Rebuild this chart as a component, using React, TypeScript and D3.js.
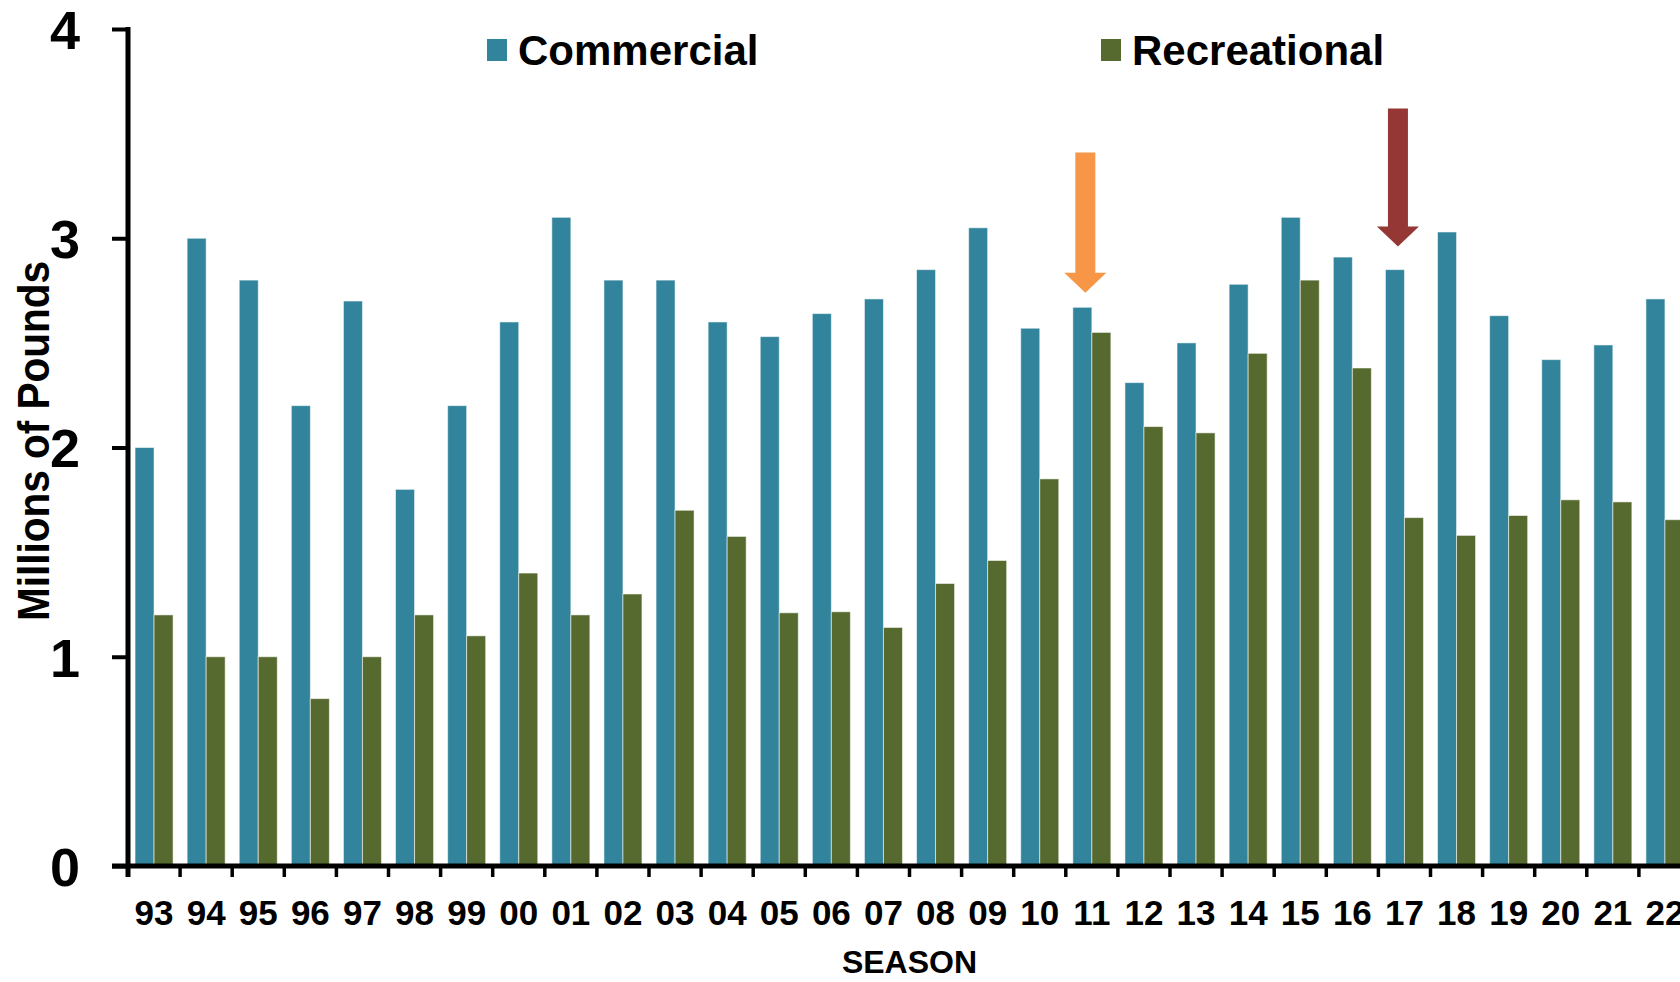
import React, { useEffect, useRef } from "react";
import * as d3 from "d3";

const seasons = ["93", "94", "95", "96", "97", "98", "99", "00", "01", "02", "03", "04", "05", "06", "07", "08", "09", "10", "11", "12", "13", "14", "15", "16", "17", "18", "19", "20", "21", "22"];
const commercial = [2.0, 3.0, 2.8, 2.2, 2.7, 1.8, 2.2, 2.6, 3.1, 2.8, 2.8, 2.6, 2.53, 2.64, 2.71, 2.85, 3.05, 2.57, 2.67, 2.31, 2.5, 2.78, 3.1, 2.91, 2.85, 3.03, 2.63, 2.42, 2.49, 2.71];
const recreational = [1.2, 1.0, 1.0, 0.8, 1.0, 1.2, 1.1, 1.4, 1.2, 1.3, 1.7, 1.575, 1.21, 1.215, 1.14, 1.35, 1.46, 1.85, 2.55, 2.1, 2.07, 2.45, 2.8, 2.38, 1.665, 1.58, 1.675, 1.75, 1.74, 1.655];
const seriesNames = ["Commercial", "Recreational"];
const seriesColors = ["#31849B", "#566A2F"];
const yTicks = [0, 1, 2, 3, 4];

// the two annotation arrows (season, top value, tip value)
const arrowSeasons = ["11", "17"];
const arrowTops = [3.41, 3.62];
const arrowTips = [2.74, 2.96];
const arrowColors = ["#F79646", "#953735"];

const FONT = "'Liberation Sans', Arial, sans-serif";

function App() {
  const ref = useRef<SVGSVGElement>(null);

  useEffect(() => {
    document.body.style.margin = "0";
    document.body.style.overflow = "hidden";

    const width = 1680;
    const left = 128;
    const step = 52.1;
    const svg = d3.select(ref.current);
    svg.selectAll("*").remove();

    const x = d3
      .scaleBand()
      .domain(seasons)
      .range([left, left + step * seasons.length])
      .paddingInner(0)
      .paddingOuter(0);

    const xs = d3
      .scaleBand()
      .domain(seriesNames)
      .range([0, x.bandwidth()])
      .paddingInner(0)
      .paddingOuter(0.37);

    const y = d3.scaleLinear().domain([0, 4]).range([866, 29]);

    const rows = seasons.map((s, i) => ({ season: s, values: [commercial[i], recreational[i]] }));

    // bars
    const groups = svg
      .append("g")
      .selectAll("g")
      .data(rows)
      .join("g")
      .attr("transform", (d) => `translate(${x(d.season)},0)`);

    groups
      .selectAll("rect")
      .data((d) => d.values.map((v, k) => ({ key: seriesNames[k], v, k })))
      .join("rect")
      .attr("x", (d: any) => xs(d.key))
      .attr("width", xs.bandwidth())
      .attr("y", (d: any) => y(d.v))
      .attr("height", (d: any) => y(0) - y(d.v))
      .attr("fill", (d: any) => seriesColors[d.k])
      .attr("stroke", "rgba(255,255,255,0.55)")
      .attr("stroke-width", 1);

    // arrows
    const arrows = arrowSeasons.map((s, i) => ({ s, top: arrowTops[i], tip: arrowTips[i], color: arrowColors[i] }));
    svg
      .append("g")
      .selectAll("path")
      .data(arrows)
      .join("path")
      .attr("fill", (d) => d.color)
      .attr("d", (d) => {
        const cx = (x(d.s) as number) + x.bandwidth() * 0.375;
        const yt = y(d.top);
        const yp = y(d.tip);
        const yh = yp - 20;
        const p = d3.path();
        p.moveTo(cx - 10, yt);
        p.lineTo(cx + 10, yt);
        p.lineTo(cx + 10, yh);
        p.lineTo(cx + 21, yh);
        p.lineTo(cx, yp);
        p.lineTo(cx - 21, yh);
        p.lineTo(cx - 10, yh);
        p.closePath();
        return p.toString();
      });

    // y axis
    const yAxis = svg
      .append("g")
      .attr("transform", `translate(${left},0)`)
      .call(d3.axisLeft(y).tickValues(yTicks).tickSize(16).tickSizeOuter(0).tickFormat(d3.format("d")).tickPadding(32));
    yAxis.select(".domain").remove();
    yAxis.selectAll(".tick line").attr("stroke", "#000").attr("stroke-width", 4);
    yAxis
      .selectAll(".tick text")
      .attr("fill", "#000")
      .attr("font-family", FONT)
      .attr("font-weight", "bold")
      .attr("font-size", 54)
      .attr("dy", "0.36em");

    svg
      .append("line")
      .attr("x1", left)
      .attr("x2", left)
      .attr("y1", y(4) - 2)
      .attr("y2", 877)
      .attr("stroke", "#000")
      .attr("stroke-width", 5);

    // x axis baseline and boundary ticks
    svg
      .append("line")
      .attr("x1", 112)
      .attr("x2", width)
      .attr("y1", y(0))
      .attr("y2", y(0))
      .attr("stroke", "#000")
      .attr("stroke-width", 5);

    svg
      .append("g")
      .selectAll("line")
      .data(seasons.slice(1))
      .join("line")
      .attr("x1", (d) => x(d) as number)
      .attr("x2", (d) => x(d) as number)
      .attr("y1", y(0))
      .attr("y2", 877)
      .attr("stroke", "#000")
      .attr("stroke-width", 3.5);

    svg
      .append("g")
      .selectAll("text")
      .data(seasons)
      .join("text")
      .attr("x", (d) => (x(d) as number) + x.bandwidth() / 2)
      .attr("y", 925)
      .attr("text-anchor", "middle")
      .attr("font-family", FONT)
      .attr("font-weight", "bold")
      .attr("font-size", 35)
      .text((d) => d);

    // axis titles
    svg
      .append("text")
      .attr("x", left + (step * seasons.length) / 2)
      .attr("y", 973)
      .attr("text-anchor", "middle")
      .attr("font-family", FONT)
      .attr("font-weight", "bold")
      .attr("font-size", 32)
      .text("SEASON");

    svg
      .append("text")
      .attr("transform", "translate(49,441) rotate(-90)")
      .attr("text-anchor", "middle")
      .attr("font-family", FONT)
      .attr("font-weight", "bold")
      .attr("font-size", 44)
      .attr("textLength", 360)
      .attr("lengthAdjust", "spacingAndGlyphs")
      .text("Millions of Pounds");

    // legend
    const legendX = [487, 1101];
    const legend = svg
      .append("g")
      .selectAll("g")
      .data(seriesNames)
      .join("g")
      .attr("transform", (_d, i) => `translate(${legendX[i]},0)`);
    legend
      .append("rect")
      .attr("x", 0)
      .attr("y", 39)
      .attr("width", 20)
      .attr("height", 22)
      .attr("fill", (_d, i) => seriesColors[i]);
    legend
      .append("text")
      .attr("x", 31)
      .attr("y", 65)
      .attr("font-family", FONT)
      .attr("font-weight", "bold")
      .attr("font-size", 42)
      .text((d) => d);
  }, []);

  return <svg ref={ref} width={1680} height={982} style={{ display: "block", background: "#fff" }} />;
}

export default App;
